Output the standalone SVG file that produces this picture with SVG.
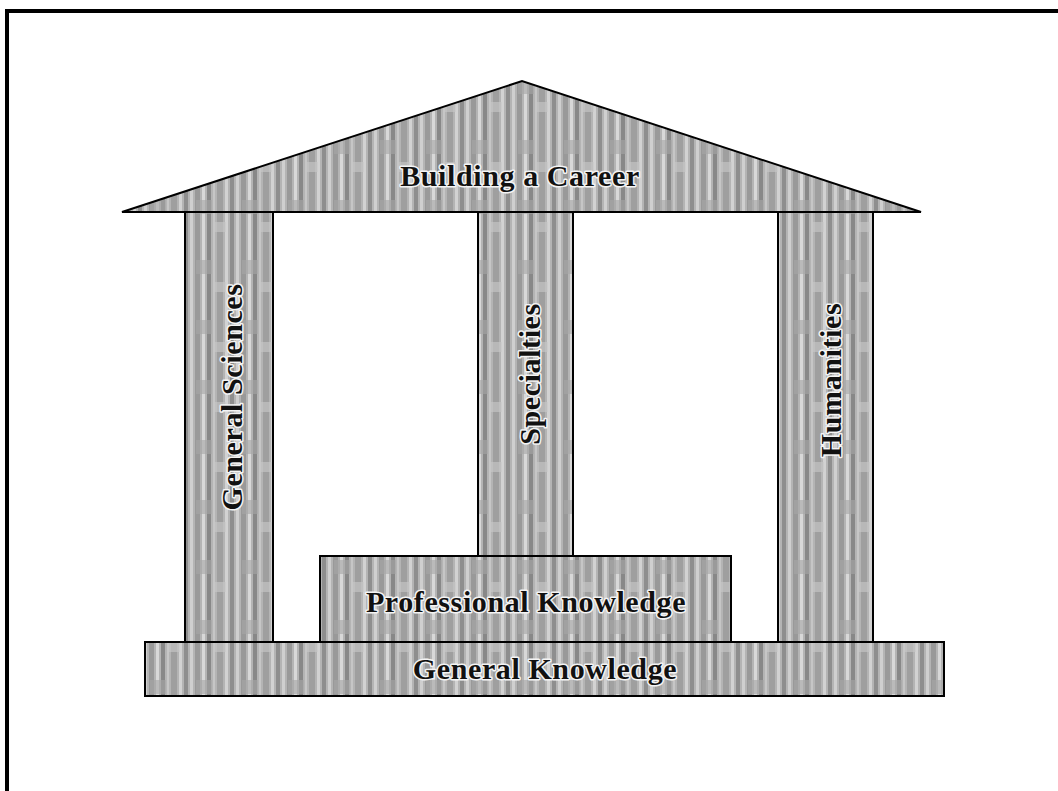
<svg xmlns="http://www.w3.org/2000/svg" width="1058" height="791" viewBox="0 0 1058 791">
<defs>
<pattern id="tex" patternUnits="userSpaceOnUse" width="46" height="60">
<rect width="46" height="60" fill="#b4b4b4"/>
<rect x="0" width="4" height="60" fill="#8e8e8e"/>
<rect x="6" width="3" height="60" fill="#cfcfcf"/>
<rect x="11" width="5" height="60" fill="#999"/>
<rect x="18" width="3" height="60" fill="#d8d8d8"/>
<rect x="23" width="4" height="60" fill="#888"/>
<rect x="29" width="2" height="60" fill="#c6c6c6"/>
<rect x="33" width="6" height="60" fill="#9f9f9f"/>
<rect x="41" width="3" height="60" fill="#d2d2d2"/>
<rect x="12" y="20" width="16" height="14" fill="#a6a6a6" opacity="0.6"/>
<rect x="30" y="42" width="12" height="10" fill="#c8c8c8" opacity="0.6"/>
</pattern>
</defs>
<style>
.shape{fill:url(#tex);stroke:#000;stroke-width:2}
.lbl{font-family:"Liberation Serif","Times New Roman",serif;font-weight:bold;font-size:30px;letter-spacing:0.6px;fill:#111;stroke:#f4f4f4;stroke-width:3;paint-order:stroke;stroke-linejoin:round;text-anchor:middle}
</style>
<rect x="7" y="11" width="1070" height="800" fill="#fff" stroke="#000" stroke-width="4"/>
<g id="general-sciences">
<rect class="shape" x="185" y="212" width="88" height="430"/>
<text class="lbl" transform="translate(242,397) rotate(-90)">General Sciences</text>
</g>
<g id="specialties">
<rect class="shape" x="478" y="212" width="95" height="344"/>
<text class="lbl" transform="translate(540,374) rotate(-90)">Specialties</text>
</g>
<g id="humanities">
<rect class="shape" x="778" y="212" width="95" height="430"/>
<text class="lbl" transform="translate(841,380) rotate(-90)">Humanities</text>
</g>
<g id="roof">
<polygon class="shape" points="122,212 522,81 921,212"/>
<text class="lbl" x="520" y="186">Building a Career</text>
</g>
<g id="professional-knowledge">
<rect class="shape" x="320" y="556" width="411" height="86"/>
<text class="lbl" x="526" y="612">Professional Knowledge</text>
</g>
<g id="general-knowledge">
<rect class="shape" x="145" y="642" width="799" height="54"/>
<text class="lbl" x="545" y="679">General Knowledge</text>
</g>
<g id="connectors"/>
</svg>
